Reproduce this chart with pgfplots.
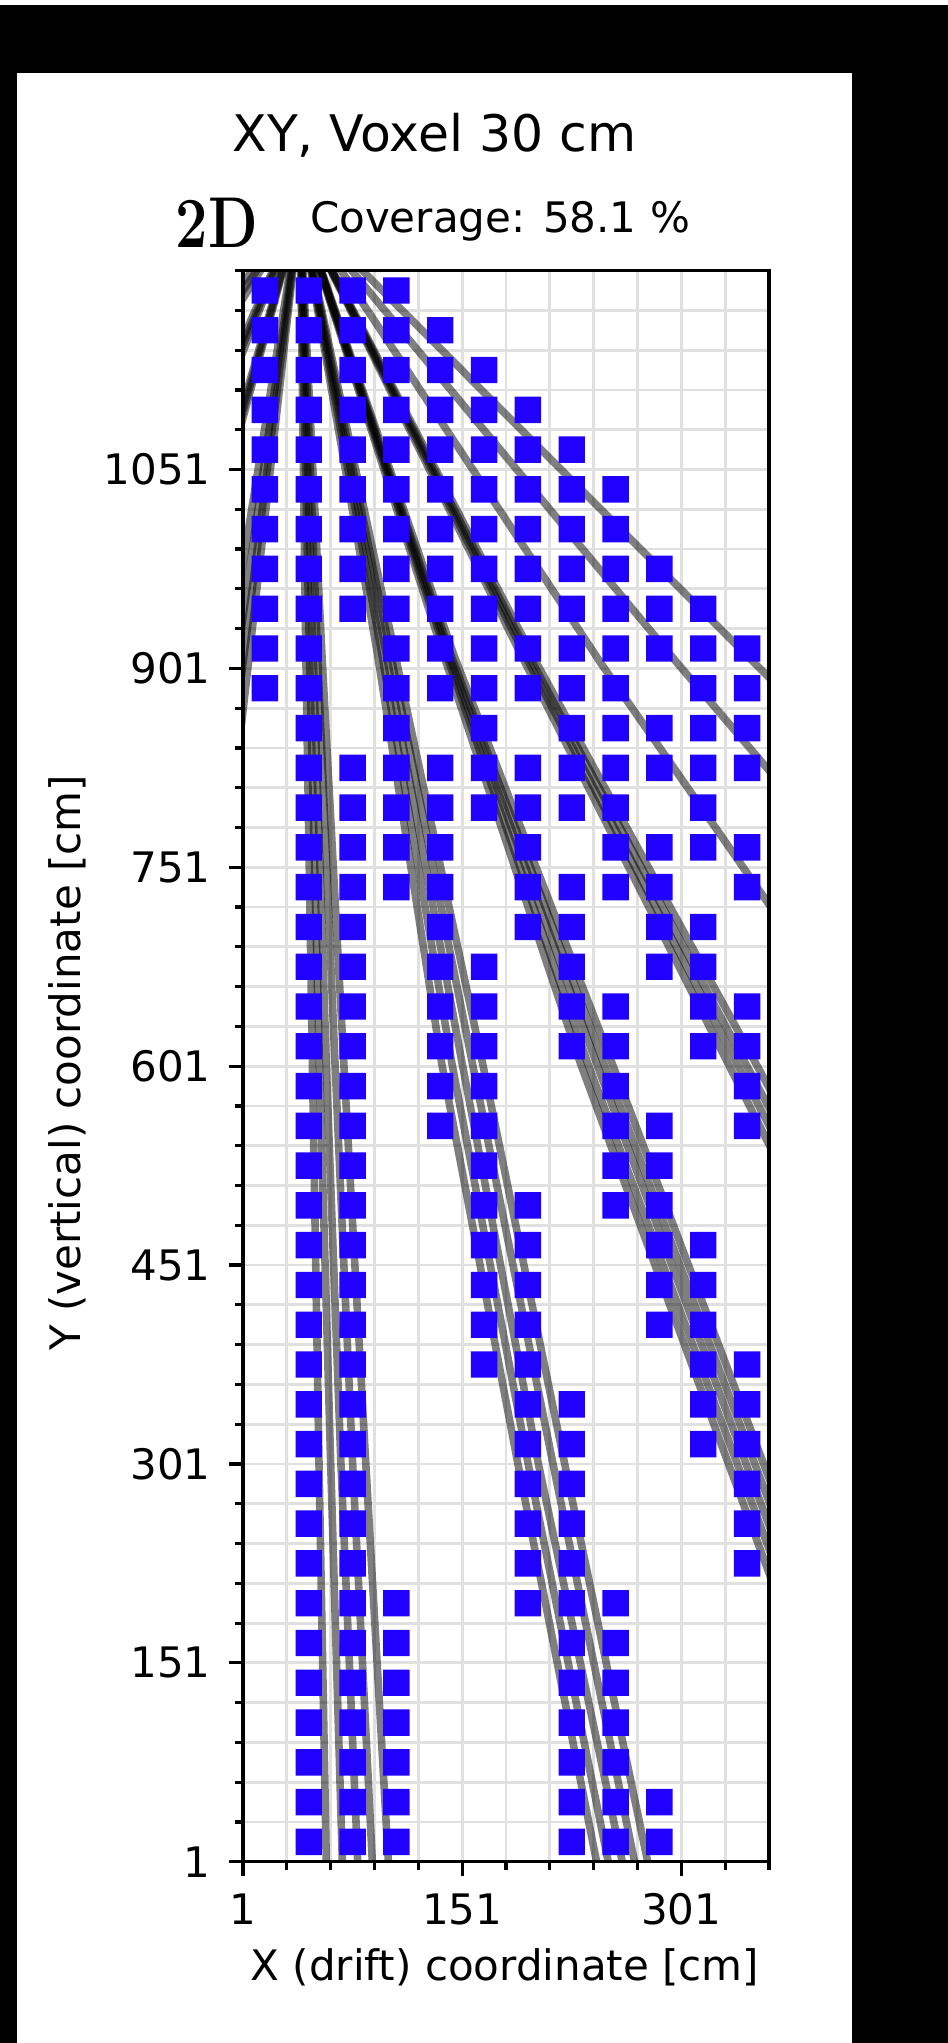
\documentclass[border=0pt]{standalone}
\usepackage{pgfplots}
\pgfplotsset{compat=1.18}
\usepackage{fontspec}
\usepackage{graphicx}
\newfontfamily\djv{DejaVu Sans}
\definecolor{vox}{RGB}{32,0,255}

\pgfdeclareplotmark{rsq}{%
  \pgfsetcornersarced{\pgfqpoint{1pt}{1pt}}%
  \pgfpathmoveto{\pgfqpoint{0pt}{-\pgfplotmarksize}}%
  \pgfpathlineto{\pgfqpoint{\pgfplotmarksize}{-\pgfplotmarksize}}%
  \pgfpathlineto{\pgfqpoint{\pgfplotmarksize}{\pgfplotmarksize}}%
  \pgfpathlineto{\pgfqpoint{-\pgfplotmarksize}{\pgfplotmarksize}}%
  \pgfpathlineto{\pgfqpoint{-\pgfplotmarksize}{-\pgfplotmarksize}}%
  \pgfpathclose
  \pgfusepathqfill}

\pgfplotsset{track/.style={black, draw opacity=0.5, line width=1.9pt, no markers, line join=round}}

\begin{document}
\begin{tikzpicture}
\useasboundingbox (0,0) rectangle (237pt,510.75pt);
\fill[black] (0,0) rectangle (237pt,510.75pt);
\fill[white] (0,509.5pt) rectangle (237pt,510.75pt);
\fill[white] (4.25pt,0) rectangle (213.1pt,492.6pt);
\begin{axis}[
  at={(60.75pt,45.3pt)}, anchor=south west,
  scale only axis, width=131.5pt, height=397.8pt,
  xmin=1, xmax=361, ymin=1, ymax=1201,
  axis line style={line width=0.8pt},
  xtick={1,151,301}, xticklabels={1,151,301},
  ytick={1,151,301,451,601,751,901,1051},
  yticklabels={1,151,301,451,601,751,901,1051},
  minor xtick={31,61,91,121,181,211,241,271,331,361},
  minor ytick={31,61,91,121,181,211,241,271,331,361,391,421,481,511,541,571,631,661,691,721,781,811,841,871,931,961,991,1021,1081,1111,1141,1171,1201},
  tick pos=left, tick align=outside,
  major tick length=3.5pt, minor tick length=2pt,
  tick style={black, line width=0.8pt},
  grid=both,
  major grid style={line width=0.7pt, black!12},
  minor grid style={line width=0.7pt, black!12},
  tick label style={font=\djv\fontsize{10.5}{12}\selectfont},
  xticklabel style={anchor=north, inner sep=0pt},
  yticklabel style={anchor=east, inner sep=0pt},
  xticklabel shift=4.2pt, yticklabel shift=4.4pt,
  clip=true,
]
% voxels
\addplot[only marks, color=vox, mark=rsq, mark size=3.3pt] coordinates {
(16,1186)(46,1186)(76,1186)(106,1186)
(16,1156)(46,1156)(76,1156)(106,1156)(136,1156)
(16,1126)(46,1126)(76,1126)(106,1126)(136,1126)(166,1126)
(16,1096)(46,1096)(76,1096)(106,1096)(136,1096)(166,1096)(196,1096)
(16,1066)(46,1066)(76,1066)(106,1066)(136,1066)(166,1066)(196,1066)(226,1066)
(16,1036)(46,1036)(76,1036)(106,1036)(136,1036)(166,1036)(196,1036)(226,1036)(256,1036)
(16,1006)(46,1006)(76,1006)(106,1006)(136,1006)(166,1006)(196,1006)(226,1006)(256,1006)
(16,976)(46,976)(76,976)(106,976)(136,976)(166,976)(196,976)(226,976)(256,976)(286,976)
(16,946)(46,946)(76,946)(106,946)(136,946)(166,946)(196,946)(226,946)(256,946)(286,946)(316,946)
(16,916)(46,916)(106,916)(136,916)(166,916)(196,916)(226,916)(256,916)(286,916)(316,916)(346,916)
(16,886)(46,886)(106,886)(136,886)(166,886)(196,886)(226,886)(256,886)(316,886)(346,886)
(46,856)(106,856)(166,856)(226,856)(256,856)(286,856)(316,856)(346,856)
(46,826)(76,826)(106,826)(136,826)(166,826)(196,826)(226,826)(256,826)(286,826)(316,826)(346,826)
(46,796)(76,796)(106,796)(136,796)(166,796)(196,796)(226,796)(256,796)(316,796)
(46,766)(76,766)(106,766)(136,766)(196,766)(256,766)(286,766)(316,766)(346,766)
(46,736)(76,736)(106,736)(136,736)(196,736)(226,736)(256,736)(286,736)(346,736)
(46,706)(76,706)(136,706)(196,706)(226,706)(286,706)(316,706)
(46,676)(76,676)(136,676)(166,676)(226,676)(286,676)(316,676)
(46,646)(76,646)(136,646)(166,646)(226,646)(256,646)(316,646)(346,646)
(46,616)(76,616)(136,616)(166,616)(226,616)(256,616)(316,616)(346,616)
(46,586)(76,586)(136,586)(166,586)(256,586)(346,586)
(46,556)(76,556)(136,556)(166,556)(256,556)(286,556)(346,556)
(46,526)(76,526)(166,526)(256,526)(286,526)
(46,496)(76,496)(166,496)(196,496)(256,496)(286,496)
(46,466)(76,466)(166,466)(196,466)(286,466)(316,466)
(46,436)(76,436)(166,436)(196,436)(286,436)(316,436)
(46,406)(76,406)(166,406)(196,406)(286,406)(316,406)
(46,376)(76,376)(166,376)(196,376)(316,376)(346,376)
(46,346)(76,346)(196,346)(226,346)(316,346)(346,346)
(46,316)(76,316)(196,316)(226,316)(316,316)(346,316)
(46,286)(76,286)(196,286)(226,286)(346,286)
(46,256)(76,256)(196,256)(226,256)(346,256)
(46,226)(76,226)(196,226)(226,226)(346,226)
(46,196)(76,196)(106,196)(196,196)(226,196)(256,196)
(46,166)(76,166)(106,166)(226,166)(256,166)
(46,136)(76,136)(106,136)(226,136)(256,136)
(46,106)(76,106)(106,106)(226,106)(256,106)
(46,76)(76,76)(106,76)(226,76)(256,76)
(46,46)(76,46)(106,46)(226,46)(256,46)(286,46)
(46,16)(76,16)(106,16)(226,16)(256,16)(286,16)
};
% tracks going left (top corner)
\addplot[track] coordinates {(40,1248)(1,1192)(-5,1183)};
\addplot[track] coordinates {(40,1248)(1,1186)(-5,1176.5)};
\addplot[track] coordinates {(40,1248)(1,1180)(-5,1169.5)};
\addplot[track] coordinates {(40,1248)(1,1150)(-5,1135)};
\addplot[track] coordinates {(40,1248)(1,1145)(-5,1129)};
\addplot[track] coordinates {(40,1248)(1,1140)(-5,1123)};
\addplot[track] coordinates {(40,1248)(1,1100)(-5,1077)};
\addplot[track] coordinates {(40,1248)(1,1095)(-5,1071.5)};
\addplot[track] coordinates {(40,1248)(1,1090)(-5,1065.7)};
\addplot[track] coordinates {(40,1248)(1,980)(-5,938.8)};
\addplot[track] coordinates {(40,1248)(1,940)(-5,892.6)};
\addplot[track] coordinates {(40,1248)(1,905)(-5,852)};
\addplot[track] coordinates {(40,1248)(1,869)(-5,810.7)};
% near-vertical bundle
\addplot[track] coordinates {(40,1248)(44,912)(48.5,603)(53,302)(58,1)(58.3,-20)};
\addplot[track] coordinates {(40,1248)(46.5,912)(53.3,603)(61,302)(69,1)(69.7,-20)};
\addplot[track] coordinates {(40,1248)(49,912)(58,603)(68,302)(79.5,1)(80.2,-20)};
\addplot[track] coordinates {(40,1248)(52,912)(64,603)(76,302)(89.5,1)(90.5,-20)};
\addplot[track] coordinates {(40,1248)(55,912)(70,603)(85,302)(100.5,1)(101.5,-20)};
% bundle to bottom right
\addplot[track] coordinates {(40,1248)(93,912)(137,603)(189,302)(243,1)(246.5,-20)};
\addplot[track] coordinates {(40,1248)(96,912)(144,603)(196,302)(251,1)(254.5,-20)};
\addplot[track] coordinates {(40,1248)(99,912)(151,603)(203,302)(260.6,1)(264,-20)};
\addplot[track] coordinates {(40,1248)(102,912)(158,603)(213,302)(269,1)(272.5,-20)};
\addplot[track] coordinates {(40,1248)(105,912)(165,603)(221,302)(278,1)(281.5,-20)};
% bundle exiting right low
\addplot[track] coordinates {(40,1248)(138,912)(232,603)(333,302)(400,103)};
\addplot[track] coordinates {(40,1248)(140,912)(237,603)(339,302)(400,122)};
\addplot[track] coordinates {(40,1248)(141.5,912)(243,603)(345,302)(400,140)};
\addplot[track] coordinates {(40,1248)(143,912)(248,603)(351,302)(400,159)};
\addplot[track] coordinates {(40,1248)(145,912)(253.7,603)(357,302)(400,177)};
% bundle exiting right middle
\addplot[track] coordinates {(40,1248)(191,912)(333,603)(400,457)};
\addplot[track] coordinates {(40,1248)(193.5,912)(339,603)(400,473.5)};
\addplot[track] coordinates {(40,1248)(196,912)(345,603)(400,489)};
\addplot[track] coordinates {(40,1248)(198.5,912)(352,603)(400,506)};
% single tracks
\addplot[track] coordinates {(40,1248)(246.5,904)(361,723)(400,661)};
\addplot[track] coordinates {(40,1248)(299,904)(361,824)(400,773)};
\addplot[track] coordinates {(40,1248)(352,904)(400,851)};
\end{axis}
\node[anchor=base, font=\djv\fontsize{12.6}{14}\selectfont] at (108.6pt,472.75pt) {XY, Voxel 30 cm};
\node[anchor=base, font=\djv\fontsize{10.5}{12}\selectfont] at (125pt,452.5pt) {Coverage: 58.1 \%};
\node[anchor=base west, inner sep=0pt] at (43.75pt,448.75pt) {\scalebox{0.8}[1]{\fontsize{18}{20}\selectfont\bfseries\addfontfeature{FakeBold=1.2}2D}};
\node[anchor=base, font=\djv\fontsize{10.5}{12}\selectfont] at (126.25pt,15.75pt) {X (drift) coordinate [cm]};
\node[anchor=base, rotate=90, font=\djv\fontsize{10.5}{12}\selectfont] at (20pt,245pt) {Y (vertical) coordinate [cm]};
\end{tikzpicture}
\end{document}
